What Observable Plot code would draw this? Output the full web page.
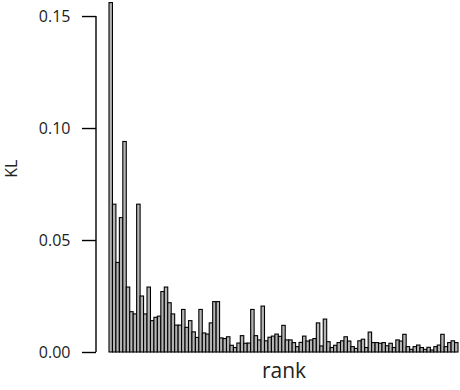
<!DOCTYPE html>
<html>
<head>
<meta charset="utf-8">
<script src="https://cdn.jsdelivr.net/npm/d3@7"></script>
<script src="https://cdn.jsdelivr.net/npm/@observablehq/plot@0.6"></script>
<style>
  body { margin: 0; background: #fff; }
  #chart { width: 460px; height: 390px; }
</style>
</head>
<body>
<div id="chart"></div>
<script>
const klValues = [
  0.156, 0.066, 0.040, 0.060, 0.094, 0.029, 0.018, 0.017, 0.066, 0.025,
  0.017, 0.029, 0.014, 0.0155, 0.016, 0.027, 0.029, 0.022, 0.017, 0.012,
  0.012, 0.019, 0.011, 0.014, 0.009, 0.0065, 0.019, 0.0085, 0.008, 0.013,
  0.0225, 0.0225, 0.0063, 0.006, 0.0068, 0.003, 0.002, 0.004, 0.0073, 0.0039,
  0.004, 0.019, 0.0073, 0.0054, 0.0205, 0.005, 0.0066, 0.0071, 0.008, 0.007,
  0.0119, 0.0054, 0.0054, 0.0042, 0.0024, 0.0043, 0.0071, 0.0049, 0.0054, 0.006,
  0.013, 0.0027, 0.0147, 0.0046, 0.002, 0.003, 0.0042, 0.005, 0.0068, 0.0049,
  0.0024, 0.0016, 0.005, 0.0057, 0.002, 0.0089, 0.0042, 0.0042, 0.0039, 0.0042,
  0.0028, 0.0039, 0.002, 0.0054, 0.0049, 0.0079, 0.0024, 0.0012, 0.0024, 0.0031,
  0.002, 0.0012, 0.0021, 0.0009, 0.0024, 0.0031, 0.0079, 0.0024, 0.0042, 0.005,
  0.0042
];
const ranks = klValues.map((_, i) => i + 1);
const yTicks = [0, 0.05, 0.10, 0.15];
const xLabel = "rank";
const yLabel = "KL";

const data = ranks.map((r, i) => ({rank: r, kl: klValues[i]}));
const font = "'Open Sans', sans-serif";

const axisLine = (index, scales, values, dims) => {
  const x = dims.marginLeft - 13;
  return d3.create("svg:line")
    .attr("x1", x).attr("x2", x)
    .attr("y1", scales.y(yTicks[0])).attr("y2", scales.y(yTicks[yTicks.length - 1]))
    .attr("stroke", "black").attr("stroke-width", 1.4)
    .node();
};

const chart = Plot.plot({
  width: 460,
  height: 390,
  marginLeft: 109,
  marginRight: 2,
  marginTop: 2.6,
  marginBottom: 38,
  style: {fontFamily: font, background: "white", color: "#222"},
  x: {type: "band", domain: ranks, padding: 0, axis: null},
  y: {domain: [0, 0.156], axis: null},
  marks: [
    Plot.barY(data, {x: "rank", y: "kl", fill: "#b4b4b4", stroke: "black", strokeWidth: 1.1}),
    axisLine,
    Plot.axisY({ticks: yTicks, tickSize: 14, tickPadding: 12, dx: -13, tickFormat: d3.format(".2f"),
      fontSize: 16, label: null, stroke: "black", strokeWidth: 1.4, color: "#222"}),
    Plot.text([yLabel], {frameAnchor: "left", rotate: -90, dx: -98, fontSize: 16, fill: "#222"}),
    Plot.text([xLabel], {frameAnchor: "bottom", dy: 25, fontSize: 21, fill: "#222"})
  ]
});
document.getElementById("chart").append(chart);
</script>
</body>
</html>
